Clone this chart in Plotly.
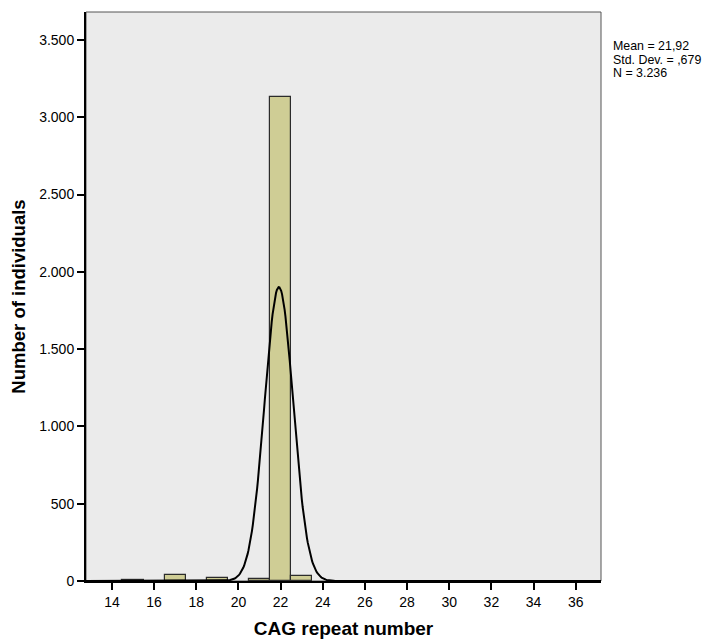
import numpy as np
import plotly.graph_objects as go

# Data
cag_repeats = [15, 17, 19, 21, 22, 23]
counts = [4, 40, 18, 12, 3130, 32]

# Summary statistics shown in the chart
stat_mean = 21.92
stat_sd = 0.679
stat_n = 3236
stat_lines = ["Mean = 21,92", "Std. Dev. = ,679", "N = 3.236"]

x_tickvals = [14, 16, 18, 20, 22, 24, 26, 28, 30, 32, 34, 36]
y_tickvals = [0, 500, 1000, 1500, 2000, 2500, 3000, 3500]
y_ticktext = ["0", "500", "1.000", "1.500", "2.000", "2.500", "3.000", "3.500"]

# Normal curve fitted from the shown statistics (bin width 1)
xs = np.linspace(12.77, 37.2, 600)
ys = stat_n * 1.0 / (stat_sd * np.sqrt(2 * np.pi)) * np.exp(-0.5 * ((xs - stat_mean) / stat_sd) ** 2)

fig = go.Figure()
fig.add_trace(go.Bar(
    x=cag_repeats, y=counts, width=1,
    marker=dict(color="#CFCD95", line=dict(color="#2b2b2b", width=1.2)),
    showlegend=False, hoverinfo="x+y",
))
fig.add_trace(go.Scatter(
    x=xs, y=ys, mode="lines", line=dict(color="black", width=2),
    showlegend=False, hoverinfo="skip",
))

font_family = "Liberation Sans, Arial, sans-serif"
plot_w = 516
plot_h = 574
fig_h = 632
top = 4
annotations = []
for i, line in enumerate(stat_lines):
    annotations.append(dict(
        xref="paper", yref="paper", x=1 + 10 / plot_w, y=1 - (34 + 14 * i) / plot_h,
        xanchor="left", yanchor="middle", align="left", showarrow=False,
        text=line, font=dict(size=12.4, family=font_family),
    ))

fig.update_layout(
    width=705, height=fig_h,
    margin=dict(l=77, r=705 - 77 - plot_w, t=top, b=fig_h - top - plot_h),
    paper_bgcolor="white",
    plot_bgcolor="#EBEBEB",
    font=dict(family=font_family, size=14, color="black"),
    separators=",.",
    bargap=0,
    xaxis=dict(
        range=[12.77, 37.2], tickvals=x_tickvals,
        ticks="outside", ticklen=7, tickwidth=1.5, tickcolor="black",
        showgrid=False, zeroline=False,
        showline=True, linecolor="black", linewidth=2,
        tickfont=dict(size=14),
        title=dict(text="<b>CAG repeat number</b>", font=dict(size=19), standoff=13),
    ),
    yaxis=dict(
        range=[0, 3681], tickvals=y_tickvals, ticktext=y_ticktext,
        ticks="outside", ticklen=7, tickwidth=1.5, tickcolor="black",
        showgrid=False, zeroline=False,
        showline=True, linecolor="black", linewidth=2,
        tickfont=dict(size=14),
        title=dict(text="<b>Number of individuals</b>", font=dict(size=18.5), standoff=14),
    ),
    shapes=[dict(type="rect", xref="paper", yref="paper", x0=0, y0=0, x1=1, y1=1,
                 line=dict(color="#555555", width=1), layer="below")],
    annotations=annotations,
)

fig.write_html("out.html")
